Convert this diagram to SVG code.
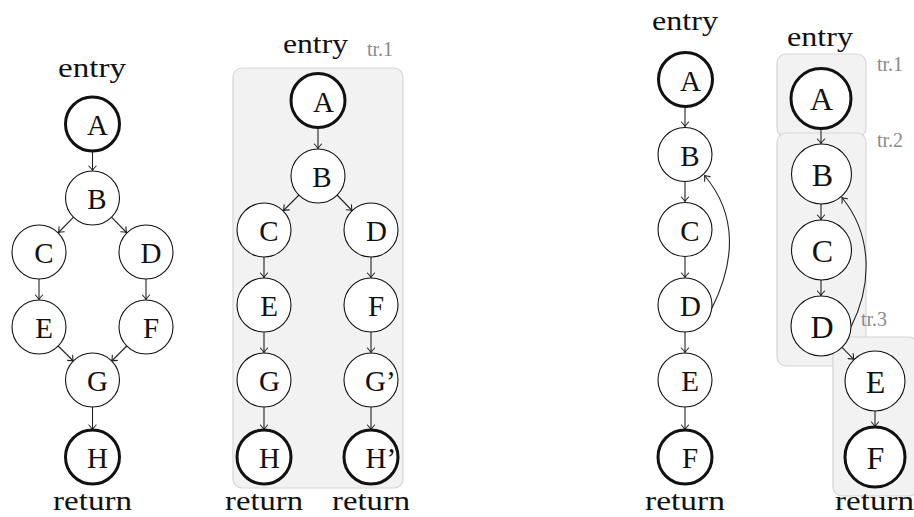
<svg xmlns="http://www.w3.org/2000/svg" width="914" height="517" viewBox="0 0 914 517">
<style>
.bg{fill:#ffffff}
.box{fill:#f2f2f2;stroke:#d6d6d6;stroke-width:1.2}
.n{fill:#ffffff;stroke:#111;stroke-width:1.1}
.t{fill:#ffffff;stroke:#111;stroke-width:3}
.lbl{font-family:"Liberation Serif","Times New Roman",serif;font-size:29px;text-anchor:middle;fill:#111}
.lbl2{font-family:"Liberation Serif","Times New Roman",serif;font-size:32px;text-anchor:middle;fill:#111}
.lp{font-family:"Liberation Serif","Times New Roman",serif;font-size:29px;fill:#111}
.term{font-family:"Liberation Serif","Times New Roman",serif;font-size:28px;text-anchor:middle;fill:#111}
.tr{font-family:"Liberation Serif","Times New Roman",serif;font-size:20px;fill:#8a8a8a}
.e{fill:none;stroke:#222;stroke-width:1.1;marker-end:url(#arr)}
</style>
<defs>
<marker id="arr" markerUnits="userSpaceOnUse" markerWidth="10" markerHeight="10" viewBox="-6 -5 7 10" refX="0" refY="0" orient="auto" overflow="visible">
<path d="M-4.5,-3.6 Q-1.6,-0.9 0,0 Q-1.6,0.9 -4.5,3.6" fill="none" stroke="#222" stroke-width="1.1" stroke-linecap="round"/>
</marker>
</defs>
<rect class="bg" x="0" y="0" width="914" height="517"/>

<g id="boxes">
<rect class="box" x="233" y="68" width="170" height="420" rx="9"/>
<rect class="box" x="777" y="54" width="89" height="83" rx="9"/>
<rect class="box" x="777" y="133" width="89" height="233" rx="9"/>
<rect class="box" x="833" y="337" width="85" height="159" rx="9"/>
</g>

<g id="labels">
<text class="term" x="92" y="77" textLength="68" lengthAdjust="spacingAndGlyphs">entry</text>
<text class="term" x="92.5" y="510" textLength="79" lengthAdjust="spacingAndGlyphs">return</text>
<text class="term" x="315.5" y="53" textLength="65" lengthAdjust="spacingAndGlyphs">entry</text>
<text class="tr" x="367" y="56">tr.1</text>
<text class="term" x="264" y="510" textLength="78" lengthAdjust="spacingAndGlyphs">return</text>
<text class="term" x="371" y="510" textLength="78" lengthAdjust="spacingAndGlyphs">return</text>
<text class="term" x="685" y="30" textLength="66" lengthAdjust="spacingAndGlyphs">entry</text>
<text class="term" x="685" y="510" textLength="80" lengthAdjust="spacingAndGlyphs">return</text>
<text class="term" x="820" y="46" textLength="66" lengthAdjust="spacingAndGlyphs">entry</text>
<text class="term" x="874.5" y="510" textLength="79" lengthAdjust="spacingAndGlyphs">return</text>
<text class="tr" x="877" y="70.5">tr.1</text>
<text class="tr" x="877" y="146.5">tr.2</text>
<text class="tr" x="861" y="326">tr.3</text>
</g>

<g id="connectors">
<!-- left graph -->
<path class="e" d="M92.5,151.5 L92.5,170.5"/>
<path class="e" d="M73.5,217.2 L58.5,232.5"/>
<path class="e" d="M111.5,217.2 L126.5,232.5"/>
<path class="e" d="M39,279 L39,299.5"/>
<path class="e" d="M146,279 L146,299.5"/>
<path class="e" d="M58.2,346 L73.3,361"/>
<path class="e" d="M126.8,346 L111.7,361"/>
<path class="e" d="M92.5,407 L92.5,429.5"/>
<!-- middle graph -->
<path class="e" d="M318,128 L318,148.5"/>
<path class="e" d="M299,195 L283.5,210.5"/>
<path class="e" d="M337,195 L352,210.5"/>
<path class="e" d="M264,257 L264,277.5"/>
<path class="e" d="M371,257 L371,277.5"/>
<path class="e" d="M264,332 L264,352.5"/>
<path class="e" d="M371,332 L371,352.5"/>
<path class="e" d="M264,407 L264,429.5"/>
<path class="e" d="M371,407 L371,429.5"/>
<!-- right graph 1 -->
<path class="e" d="M685,107 L685,126.5"/>
<path class="e" d="M685,181.5 L685,201.5"/>
<path class="e" d="M685,256.5 L685,277.5"/>
<path class="e" d="M685,332 L685,352.5"/>
<path class="e" d="M685,407 L685,429.5"/>
<path class="e" d="M712,308 C735,262 738,215 704.5,175.5"/>
<!-- right graph 2 -->
<path class="e" d="M821,129.5 L821,143.5"/>
<path class="e" d="M821,204 L821,219.5"/>
<path class="e" d="M821,280 L821,295.5"/>
<path class="e" d="M842,347.4 L853.8,359.3"/>
<path class="e" d="M875,411 L875,426.5"/>
<path class="e" d="M851,327 C872,285 873,236 842,197.5"/>
</g>

<!-- left graph nodes -->
<g id="L-A"><circle class="t" cx="92.5" cy="124" r="27"/><text class="lbl" x="97.5" y="135">A</text></g>
<g id="L-B"><circle class="n" cx="92.5" cy="198" r="27"/><text class="lbl" x="97" y="209">B</text></g>
<g id="L-C"><circle class="n" cx="39" cy="252" r="27"/><text class="lbl" x="44" y="263">C</text></g>
<g id="L-D"><circle class="n" cx="146" cy="252" r="27"/><text class="lbl" x="151" y="263">D</text></g>
<g id="L-E"><circle class="n" cx="39" cy="327" r="27"/><text class="lbl" x="44" y="338">E</text></g>
<g id="L-F"><circle class="n" cx="146" cy="327" r="27"/><text class="lbl" x="151" y="338">F</text></g>
<g id="L-G"><circle class="n" cx="92.5" cy="380" r="27"/><text class="lbl" x="97.5" y="391">G</text></g>
<g id="L-H"><circle class="t" cx="92.5" cy="457" r="27"/><text class="lbl" x="97.5" y="468">H</text></g>

<!-- middle graph nodes -->
<g id="M-A"><circle class="t" cx="318" cy="100.5" r="27"/><text class="lbl" x="323.5" y="112">A</text></g>
<g id="M-B"><circle class="n" cx="318" cy="176" r="27"/><text class="lbl" x="322" y="187">B</text></g>
<g id="M-C"><circle class="n" cx="264" cy="230" r="27"/><text class="lbl" x="269" y="241">C</text></g>
<g id="M-D"><circle class="n" cx="371" cy="230" r="27"/><text class="lbl" x="376.5" y="241">D</text></g>
<g id="M-E"><circle class="n" cx="264" cy="305" r="27"/><text class="lbl" x="269" y="316">E</text></g>
<g id="M-F"><circle class="n" cx="371" cy="305" r="27"/><text class="lbl" x="376" y="316">F</text></g>
<g id="M-G"><circle class="n" cx="264" cy="380" r="27"/><text class="lbl" x="269.5" y="391">G</text></g>
<g id="M-G2"><circle class="n" cx="371" cy="380" r="27"/><text class="lp" x="365" y="391">G’</text></g>
<g id="M-H"><circle class="t" cx="264" cy="457" r="27"/><text class="lbl" x="269.5" y="468">H</text></g>
<g id="M-H2"><circle class="t" cx="371" cy="457" r="27"/><text class="lp" x="365.5" y="468">H’</text></g>

<!-- right graph 1 nodes -->
<g id="R1-A"><circle class="t" cx="685.5" cy="79.5" r="27"/><text class="lbl" x="690.5" y="91">A</text></g>
<g id="R1-B"><circle class="n" cx="685" cy="154.5" r="27"/><text class="lbl" x="690" y="165.5">B</text></g>
<g id="R1-C"><circle class="n" cx="685" cy="229.5" r="27"/><text class="lbl" x="690" y="240.5">C</text></g>
<g id="R1-D"><circle class="n" cx="685" cy="305" r="27"/><text class="lbl" x="690.5" y="316">D</text></g>
<g id="R1-E"><circle class="n" cx="685" cy="380" r="27"/><text class="lbl" x="690" y="391">E</text></g>
<g id="R1-F"><circle class="t" cx="685" cy="457" r="27"/><text class="lbl" x="690" y="468">F</text></g>

<!-- right graph 2 nodes -->
<g id="R2-A"><circle class="t" cx="821" cy="98.5" r="30"/><text class="lbl2" x="821.5" y="110">A</text></g>
<g id="R2-B"><circle class="n" cx="821.5" cy="174" r="30"/><text class="lbl2" x="822.5" y="185.5">B</text></g>
<g id="R2-C"><circle class="n" cx="821.5" cy="250" r="30"/><text class="lbl2" x="822.5" y="261.5">C</text></g>
<g id="R2-D"><circle class="n" cx="821" cy="326" r="30"/><text class="lbl2" x="822" y="337.5">D</text></g>
<g id="R2-E"><circle class="n" cx="875" cy="381" r="30"/><text class="lbl2" x="875.5" y="392.5">E</text></g>
<g id="R2-F"><circle class="t" cx="875" cy="457" r="30"/><text class="lbl2" x="875.5" y="468.5">F</text></g>
</svg>
